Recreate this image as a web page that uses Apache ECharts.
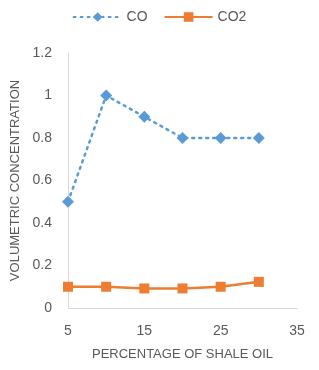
<!DOCTYPE html>
<html><head><meta charset="utf-8">
<script src="https://cdn.jsdelivr.net/npm/echarts@6/dist/echarts.min.js"></script>
<style>html,body{margin:0;padding:0;background:#fff}#c{width:319px;height:370px}</style>
</head><body><div id="c"></div>
<script>
var xValues = [5, 10, 15, 20, 25, 30];
var coValues = [0.5, 1.0, 0.9, 0.8, 0.8, 0.8];
var co2Values = [0.1, 0.1, 0.092, 0.092, 0.1, 0.123];
var xTickLabels = [5, 15, 25, 35];
var yTickLabels = [0, 0.2, 0.4, 0.6, 0.8, 1, 1.2];

var font = "'Liberation Sans', Arial, sans-serif";
var gray = '#595959';
function pairs(ys){ return xValues.map(function(x,i){ return [x, ys[i]]; }); }

var chart = echarts.init(document.getElementById('c'));
chart.setOption({
  animation: false,
  backgroundColor: '#fff',
  textStyle: {fontFamily: font},
  legend: {
    top: 5, left: 'center', itemWidth: 48, itemHeight: 12, itemGap: 16,
    textStyle: {color: gray, fontSize: 14, fontFamily: font},
    data: ['CO', 'CO2']
  },
  grid: {left: 68, right: 22, top: 53, bottom: 62},
  xAxis: {
    type: 'value', min: 5, max: 35, interval: 5,
    name: 'PERCENTAGE OF SHALE OIL', nameLocation: 'middle', nameGap: 40,
    nameTextStyle: {color: gray, fontSize: 13, fontFamily: font},
    axisLine: {show: true, lineStyle: {color: '#d9d9d9', width: 1}},
    axisTick: {show: false},
    splitLine: {show: false},
    axisLabel: {
      color: gray, fontSize: 14, margin: 16, fontFamily: font,
      formatter: function(v){ return xTickLabels.indexOf(v) >= 0 ? String(v) : ''; }
    }
  },
  yAxis: {
    type: 'value', min: 0, max: 1.2, interval: 0.2,
    name: 'VOLUMETRIC CONCENTRATION', nameLocation: 'middle', nameGap: 46, nameRotate: 90,
    nameTextStyle: {color: gray, fontSize: 13, fontFamily: font},
    axisLine: {show: true, lineStyle: {color: '#d9d9d9', width: 1}},
    axisTick: {show: false},
    splitLine: {show: false},
    axisLabel: {
      color: gray, fontSize: 14, margin: 16, fontFamily: font,
      formatter: function(v){
        var r = Math.round(v*10)/10;
        for (var i=0;i<yTickLabels.length;i++){ if (Math.abs(yTickLabels[i]-r)<1e-9) return String(yTickLabels[i]); }
        return '';
      }
    }
  },
  series: [
    {
      name: 'CO', type: 'line', data: pairs(coValues),
      symbol: 'diamond', symbolSize: 12,
      itemStyle: {color: '#5B9BD5'},
      lineStyle: {color: '#5B9BD5', width: 2.5, type: [2, 5], cap: 'round'}
    },
    {
      name: 'CO2', type: 'line', data: pairs(co2Values),
      symbol: 'rect', symbolSize: 10,
      itemStyle: {color: '#ED7D31'},
      lineStyle: {color: '#ED7D31', width: 2.5}
    }
  ]
});
</script></body></html>
